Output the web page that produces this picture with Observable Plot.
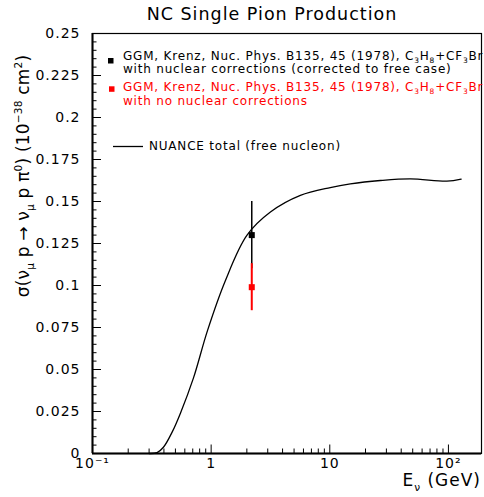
<!DOCTYPE html>
<html><head><meta charset="utf-8">
<script src="https://cdn.jsdelivr.net/npm/d3@7"></script>
<script src="https://cdn.jsdelivr.net/npm/@observablehq/plot@0.6"></script>
<style>body{margin:0;background:#fff} svg{display:block}</style>
</head><body><div id="chart"></div>
<script>
// NUANCE total (free nucleon) curve
const nuanceE =     [0.30, 0.35,   0.396,  0.469,  0.551, 0.71,  0.93,  1.32,  2.00,   3.16,   5.65,   10.1,   14.9,   26.7,   47.8,   97.0,   128.0];
const nuanceSigma = [0.000, 0.0005, 0.0037, 0.0127, 0.024, 0.045, 0.073, 0.103, 0.1298, 0.1437, 0.1536, 0.1583, 0.1605, 0.1625, 0.1635, 0.1621, 0.1633];
// GGM points
const ggmE = [2.2];
const ggmCorrSigma = [0.130];
const ggmCorrErr = [0.020];
const ggmRawSigma = [0.099];
const ggmRawErr = [0.014];
// ticks
const yTickValues = [0, 0.025, 0.05, 0.075, 0.1, 0.125, 0.15, 0.175, 0.2, 0.225, 0.25];
const yMinorValues = d3.range(0, 51).map(i => i * 0.005);
const xTickValues = [0.1, 1, 10, 100];
const xTickLabels = ["10⁻¹", "1", "10", "10²"];
const xMinorValues = [0.2,0.3,0.4,0.5,0.6,0.7,0.8,0.9,2,3,4,5,6,7,8,9,20,30,40,50,60,70,80,90];

const W = 484, H = 497, mL = 92, mR = 3, mT = 33, mB = 44;
const fw = W - mL - mR, fh = H - mT - mB;
const nuance = nuanceE.map((e, i) => ({e, s: nuanceSigma[i]}));
const corr = ggmE.map((e, i) => ({e, s: ggmCorrSigma[i], lo: ggmCorrSigma[i] - ggmCorrErr[i], hi: ggmCorrSigma[i] + ggmCorrErr[i]}));
const raw = ggmE.map((e, i) => ({e, s: ggmRawSigma[i], lo: ggmRawSigma[i] - ggmRawErr[i], hi: ggmRawSigma[i] + ggmRawErr[i]}));
const FONT = "DejaVu Sans";

const chart = Plot.plot({
  width: W, height: H, marginLeft: mL, marginRight: mR, marginTop: mT, marginBottom: mB,
  style: {fontFamily: FONT, background: "white", overflow: "visible", color: "black"},
  x: {type: "log", domain: [0.1, 190]},
  y: {domain: [0, 0.25]},
  marks: [
    Plot.ruleX(xMinorValues, {x: d => d, insetTop: fh - 4.5, stroke: "black", strokeWidth: 1}),
    Plot.ruleX(xTickValues, {x: d => d, insetTop: fh - 8.5, stroke: "black", strokeWidth: 1}),
    Plot.ruleY(yMinorValues, {y: d => d, insetRight: fw - 4.5, stroke: "black", strokeWidth: 1}),
    Plot.ruleY(yTickValues, {y: d => d, insetRight: fw - 9, stroke: "black", strokeWidth: 1}),
    Plot.frame({stroke: "black", strokeWidth: 1.2}),
    Plot.ruleY([0], {stroke: "black", strokeWidth: 2}),
    Plot.ruleX([0.1], {stroke: "black", strokeWidth: 2}),
    Plot.axisY({ticks: yTickValues, tickSize: 0, tickPadding: 12, fontSize: 14, tickFormat: d => String(d), label: null}),
    Plot.axisX({ticks: xTickValues, tickSize: 0, tickPadding: 5, fontSize: 14, tickFormat: d => xTickLabels[xTickValues.indexOf(d)], label: null}),
    Plot.line(nuance, {x: "e", y: "s", curve: "catmull-rom", stroke: "black", strokeWidth: 1.3}),
    Plot.ruleX(corr, {x: "e", y1: "lo", y2: "hi", stroke: "black", strokeWidth: 1.5}),
    Plot.dot(corr, {x: "e", y: "s", symbol: "square", fill: "black", stroke: "none", r: 3.4}),
    Plot.ruleX(raw, {x: "e", y1: "lo", y2: "hi", stroke: "#ff0000", strokeWidth: 2}),
    Plot.dot(raw, {x: "e", y: "s", symbol: "square", fill: "#ff0000", stroke: "none", r: 3.4})
  ]
});
document.getElementById("chart").appendChild(chart);

const svg = d3.select(chart);
svg.selectAll('g[aria-label="y-axis tick label"] text, g[aria-label="x-axis tick label"] text').attr("letter-spacing", 1);

// rich text helper: parts = [[text, mode]] mode: n, sub, sup
function rich(g, x, y, parts, size, color, opts = {}) {
  const t = g.append("text").attr("x", x).attr("y", y).attr("fill", color)
    .attr("font-family", FONT).attr("font-size", size)
    .attr("letter-spacing", opts.ls ?? 0.8)
    .attr("text-anchor", opts.anchor || "start");
  if (opts.transform) t.attr("transform", opts.transform);
  let cur = 0;
  for (const [s, m] of parts) {
    let target = m === "sub" ? size * 0.28 : m === "sup" ? -size * 0.42 : 0;
    t.append("tspan").attr("dy", target - cur).attr("font-size", m === "n" ? size : size * 0.62).text(s);
    cur = target;
  }
  return t;
}
const g = svg.append("g").attr("text-anchor", "start");
// Title
rich(g, 272, 19.5, [["NC Single Pion Production", "n"]], 17.5, "black", {anchor: "middle", ls: 1});
// Legend
const lx = 123;
g.append("rect").attr("x", 108).attr("y", 58).attr("width", 5.5).attr("height", 5.5).attr("fill", "black");
rich(g, lx, 59.5, [["GGM, Krenz, Nuc. Phys. B135, 45 (1978), C", "n"], ["3", "sub"], ["H", "n"], ["8", "sub"], ["+CF", "n"], ["3", "sub"], ["Br", "n"]], 12, "black");
rich(g, lx, 72.5, [["with nuclear corrections (corrected to free case)", "n"]], 12, "black");
g.append("rect").attr("x", 109).attr("y", 86.3).attr("width", 5.5).attr("height", 5.5).attr("fill", "#ff0000");
rich(g, lx, 91, [["GGM, Krenz, Nuc. Phys. B135, 45 (1978), C", "n"], ["3", "sub"], ["H", "n"], ["8", "sub"], ["+CF", "n"], ["3", "sub"], ["Br", "n"]], 12, "#ff0000");
rich(g, lx, 104.5, [["with no nuclear corrections", "n"]], 12, "#ff0000");
g.append("line").attr("x1", 113).attr("x2", 143).attr("y1", 146.5).attr("y2", 146.5).attr("stroke", "black").attr("stroke-width", 1.3);
rich(g, 149, 150, [["NUANCE total (free nucleon)", "n"]], 12, "black");
// Axis titles
rich(g, 481, 486, [["E", "n"], ["ν", "sub"], [" (GeV)", "n"]], 17, "black", {anchor: "end", ls: 1});
rich(g, 0, 0, [["σ(ν", "n"], ["μ", "sub"], [" p → ν", "n"], ["μ", "sub"], [" p π", "n"], ["0", "sup"], [") (10", "n"], ["−38", "sup"], [" cm", "n"], ["2", "sup"], [")", "n"]], 17, "black", {anchor: "middle", ls: 0.2, transform: "translate(29,176) rotate(-90)"});
</script>
</body></html>
